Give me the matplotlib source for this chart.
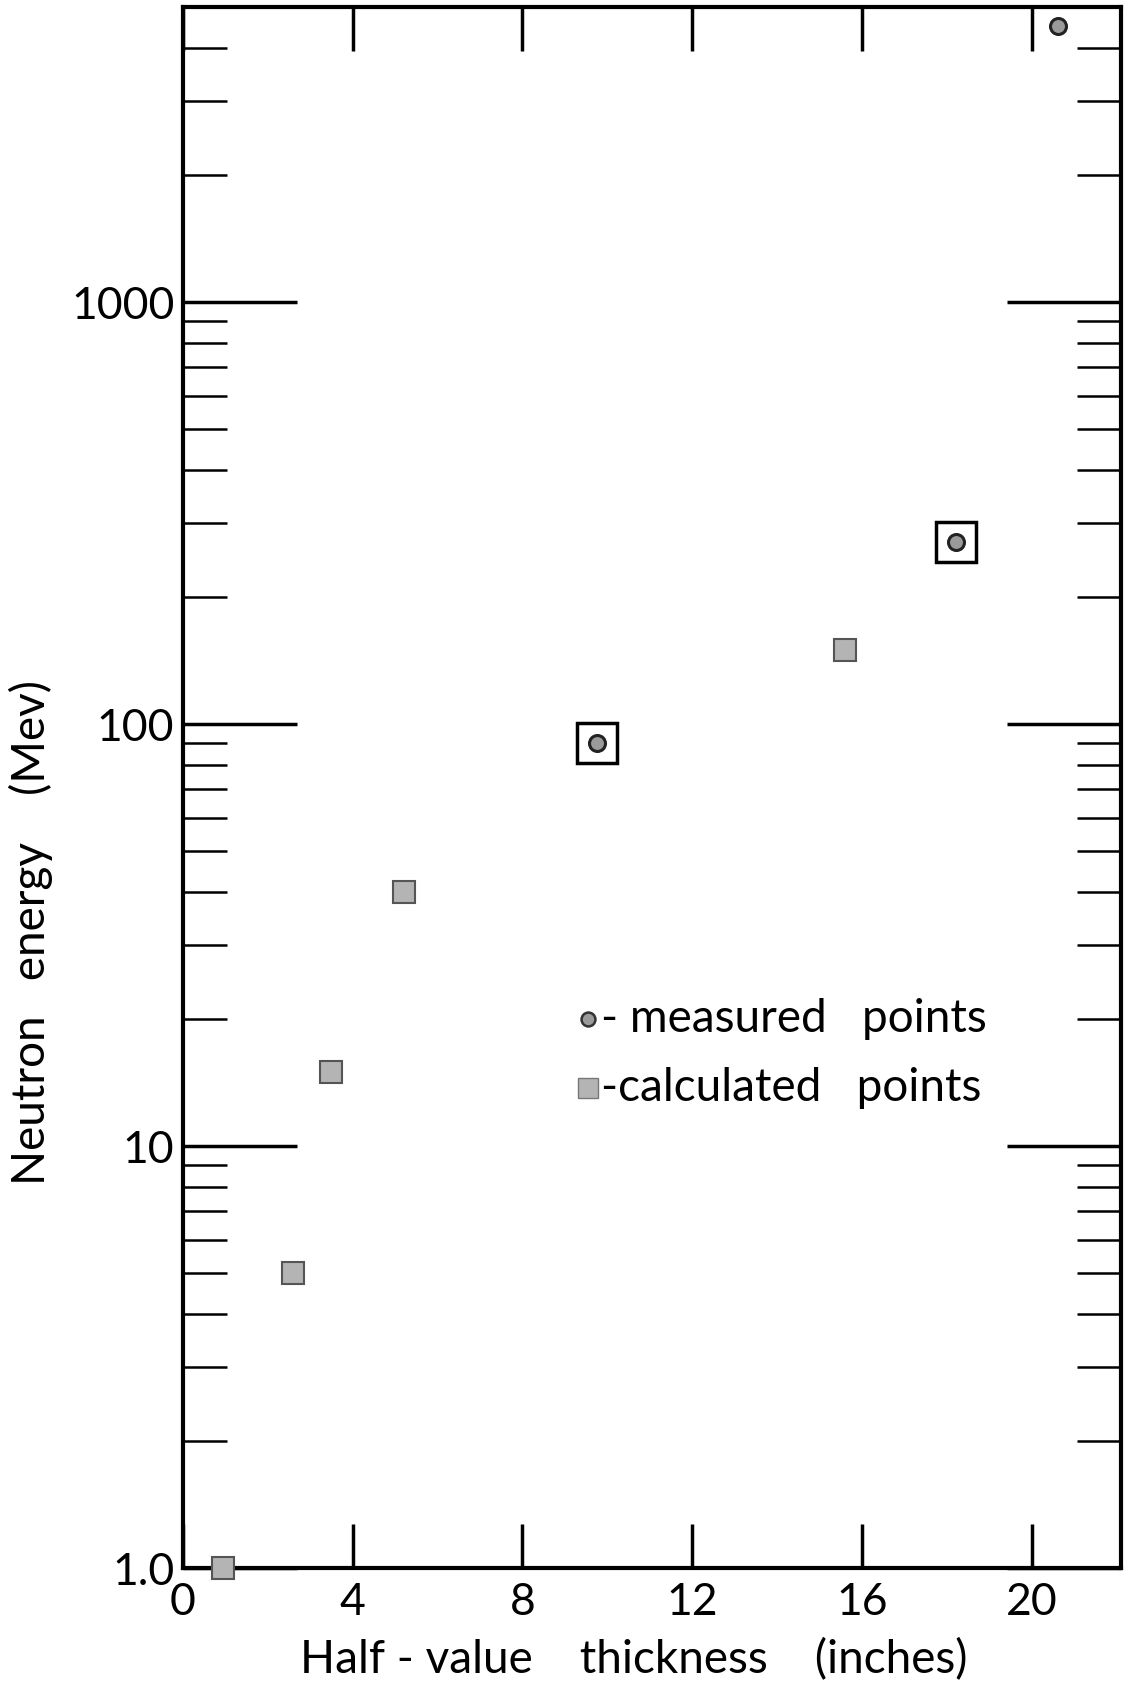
import matplotlib
matplotlib.use("Agg")
import matplotlib.pyplot as plt
from matplotlib.ticker import FixedLocator, LogLocator, NullFormatter

plt.rcParams['font.family'] = ['Lato', 'DejaVu Sans']

# values
calc_x = [0.95, 2.6, 3.5, 5.2, 15.6]
calc_y = [1.0, 5.0, 15.0, 40.0, 150.0]
meas_x = [9.75, 18.2, 20.6]
meas_y = [90.0, 270.0, 4500.0]
boxed_x = [9.75, 18.2]
boxed_y = [90.0, 270.0]
x_ticks = [0, 4, 8, 12, 16, 20]
y_ticks = [1, 10, 100, 1000]
y_tick_labels = ["1.0", "10", "100", "1000"]

fig = plt.figure(figsize=(11.28, 16.85), dpi=100)
ax = fig.add_axes([0.162, 0.0694, 0.832, 0.9264])

ax.set_yscale("log")
ax.set_xlim(0, 22.1)
ax.set_ylim(1.0, 5000)

ax.plot(calc_x, calc_y, "s", ms=16, mfc="#b4b4b4", mec="#555555", mew=1.5, clip_on=False, zorder=3)
ax.plot(meas_x, meas_y, "o", ms=11.5, mfc="#9a9a9a", mec="#222222", mew=2.2, clip_on=False, zorder=3)
ax.plot(boxed_x, boxed_y, "s", ms=29, mfc="none", mec="black", mew=2.5, zorder=2)

# legend drawn as in the original: markers and text in the plot area
ax.plot([9.55], [20], "o", ms=10, mfc="#9a9a9a", mec="#333333", mew=1.8)
ax.plot([9.55], [13.7], "s", ms=15, mfc="#b4b4b4", mec="#777777", mew=1)
ax.text(9.85, 20, "- measured   points", fontsize=33, va="center", ha="left")
ax.text(9.85, 13.7, "-calculated   points", fontsize=33, va="center", ha="left")

ax.xaxis.set_major_locator(FixedLocator(x_ticks))
ax.yaxis.set_major_locator(FixedLocator(y_ticks))
ax.set_yticklabels(y_tick_labels)
ax.yaxis.set_minor_locator(LogLocator(base=10, subs=range(2, 10)))
ax.yaxis.set_minor_formatter(NullFormatter())

ax.tick_params(axis="both", which="major", direction="in", labelsize=32,
               top=True, right=True, width=2.5, color="black")
ax.tick_params(axis="x", which="major", length=32, pad=10)
ax.tick_params(axis="y", which="major", length=82, pad=6)
ax.tick_params(axis="y", which="minor", direction="in", left=True, right=True,
               length=32, width=1.8)

for s in ax.spines.values():
    s.set_linewidth(3)

fig.text(0.562, 1 - 1660 / 1685, "Half - value    thickness    (inches)", fontsize=33,
         ha="center", va="center")
fig.text(0.027, 1 - 932 / 1685, "Neutron   energy    (Mev)", fontsize=33,
         ha="center", va="center", rotation=90)

fig.savefig("out.png", dpi=100)
